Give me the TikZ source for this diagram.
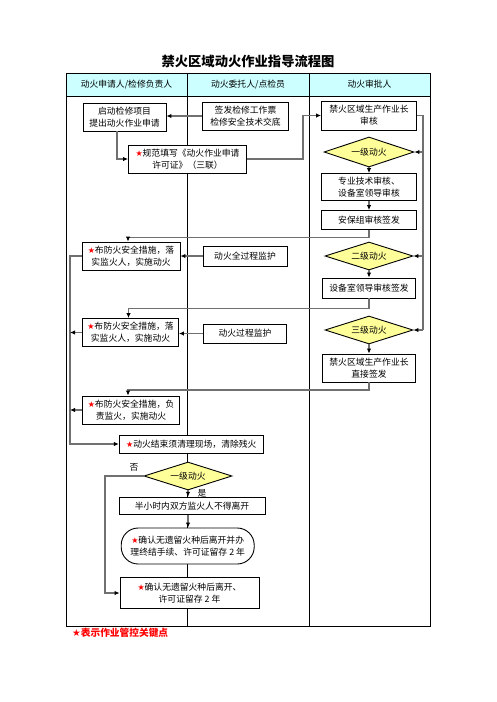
\documentclass[tikz,border=0pt]{standalone}
\usepackage{fontspec}
\setmainfont{Liberation Serif}
\newfontfamily\cjk{Noto Sans CJK SC}
\newfontfamily\symf{DejaVu Sans}
\usetikzlibrary{shapes.geometric,arrows.meta}
\definecolor{hdrcyan}{HTML}{CCFFFF}
\definecolor{diayel}{HTML}{FFFF99}
\definecolor{linegray}{HTML}{707070}
\newcommand{\rstar}{{\symf\color{red}\fontsize{8}{8}\selectfont ★}}
\tikzset{
  txt/.style={font=\cjk\fontsize{8.8}{12}\selectfont},
  box/.style={txt, draw=black, line width=0.9pt, fill=white, inner sep=0pt, align=center},
  dia/.style={txt, diamond, aspect=3.2, draw=black, line width=0.9pt, fill=diayel, inner sep=0pt},
  conn/.style={draw=linegray, line width=1.5pt},
  tip/.style={-{Latex[length=5pt,width=4.5pt,color=black]}}
}
\begin{document}
\begin{tikzpicture}[x=1pt,y=-1pt]
\useasboundingbox (0,0) rectangle (496,702);
% title
\node[font=\cjk\bfseries\fontsize{13.3}{14}\selectfont] (title) at (248,61) {禁火区域动火作业指导流程图};
% table
\fill[hdrcyan] (66,73) rectangle (430,96);
\draw[line width=0.9pt] (66,73) rectangle (430,626);
\draw[line width=0.9pt] (66,96) -- (430,96);
\draw[line width=0.9pt] (187.5,73) -- (187.5,626);
\draw[line width=0.9pt] (309,73) -- (309,626);
\node[txt] (h1) at (126.5,84.5) {动火申请人/检修负责人};
\node[txt] (h2) at (248,84.5) {动火委托人/点检员};
\node[txt] (h3) at (369.5,84.5) {动火审批人};
% nodes
\node[box, minimum width=83pt, minimum height=28pt] (n1) at (124.5,117) {启动检修项目\\提出动火作业申请};
\node[box, minimum width=86pt, minimum height=28pt] (n2) at (245.5,116) {签发检修工作票\\检修安全技术交底};
\node[box, minimum width=95pt, minimum height=29pt] (n3) at (369,115.5) {禁火区域生产作业长\\审核};
\node[box, minimum width=118pt, minimum height=28pt] (n4) at (187.5,159) {\rstar 规范填写《动火作业申请\\许可证》（三联）};
\node[dia, minimum width=90pt, minimum height=30pt] (d1) at (369,152) {一级动火};
\node[box, minimum width=95pt, minimum height=27pt] (n5) at (369,187) {专业技术审核、\\设备室领导审核};
\node[box, minimum width=95pt, minimum height=19pt] (n6) at (369,220) {安保组审核签发};
\node[box, minimum width=98pt, minimum height=28pt] (b1) at (131,256) {\rstar 布防火安全措施，落\\实监火人，实施动火};
\node[box, minimum width=84pt, minimum height=20pt] (m1) at (245,256) {动火全过程监护};
\node[dia, minimum width=88pt, minimum height=28pt] (d2) at (369,256) {二级动火};
\node[box, minimum width=93pt, minimum height=20pt] (n7) at (369,288) {设备室领导审核签发};
\node[box, minimum width=96pt, minimum height=28pt] (b2) at (130.5,332.5) {\rstar 布防火安全措施，落\\实监火人，实施动火};
\node[box, minimum width=83pt, minimum height=19pt] (m2) at (245,333.5) {动火过程监护};
\node[dia, minimum width=88pt, minimum height=28pt] (d3) at (369,330) {三级动火};
\node[box, minimum width=93pt, minimum height=28pt] (n8) at (369,368) {禁火区域生产作业长\\直接签发};
\node[box, minimum width=97pt, minimum height=28pt] (b3) at (131,410) {\rstar 布防火安全措施，负\\责监火，实施动火};
\node[box, minimum width=144pt, minimum height=18pt] (e1) at (191.3,444) {\rstar 动火结束须清理现场，清除残火};
\node[dia, minimum width=88pt, minimum height=28pt] (d4) at (188,476) {一级动火};
\node[box, minimum width=146pt, minimum height=17pt] (s1) at (192,505.7) {半小时内双方监火人不得离开};
\node[box, minimum width=133pt, minimum height=36pt, rounded corners=17pt] (r1) at (187.7,546) {\rstar 确认无遗留火种后离开并办\\理终结手续、许可证留存 2 年};
\node[box, minimum width=139pt, minimum height=31pt] (f1) at (189.5,593) {\rstar 确认无遗留火种后离开、\\许可证留存 2 年};
\node[txt] (no) at (134,467) {否};
\node[txt] (yes) at (202,493) {是};
\node[font=\cjk\bfseries\fontsize{9.7}{10}\selectfont, text=red, anchor=west, inner sep=0pt] (note) at (72,633) {\symf★\cjk 表示作业管控关键点};
% connectors
\coordinate (c1) at (303,159);
\coordinate (rv) at (423,115.5);
\draw[conn,tip] (n2.west) -- (n1.east |- n2.west);
\draw[conn,tip] ([xshift=-7.5pt]n1.south) |- (n4.west);
\draw[conn,tip] (n4.east) -- (c1) |- (n3.west);
\draw[conn] (n3.east) -- (rv) -- (rv |- d3.east);
\draw[conn,tip] (rv |- d1.east) -- (d1.east);
\draw[conn,tip] (rv |- d2.east) -- (d2.east);
\draw[conn,tip] (rv |- d3.east) -- (d3.east);
\draw[conn,tip] (d1.south) -- (n5.north);
\draw[conn,tip] (n5.south) -- (n6.north);
\draw[conn,tip] (d2.south) -- (n7.north);
\draw[conn,tip] (d3.south) -- (n8.north);
\draw[conn,tip] (n6.south) -- ++(0,7.5) -| ([xshift=-3pt]b1.north);
\draw[conn,tip] (n7.south) -- ++(0,10) -| ([xshift=-2pt]b2.north);
\draw[conn,tip] (n8.south) -- ++(0,7.5) -| ([xshift=-3pt]b3.north);
\draw[conn,tip] (m1.west) -- (b1.east);
\draw[conn,tip] (m2.west) -- (b2.east |- m2.west);
\coordinate (lv) at (70,444);
\draw[conn,tip] (b1.west) -| (lv) -- (e1.west);
\draw[conn,tip] (b2.west) -- (lv |- b2.west);
\draw[conn,tip] (b3.west) -- (lv |- b3.west);
\draw[conn,tip] (d4.south) -- (d4.south |- s1.north);
\draw[conn,tip] (d4.south |- s1.south) -- (d4.south |- r1.north);
\coordinate (lv2) at (105,476);
\draw[conn,tip] (d4.west) -- (lv2) |- (f1.west);
\end{tikzpicture}
\end{document}
